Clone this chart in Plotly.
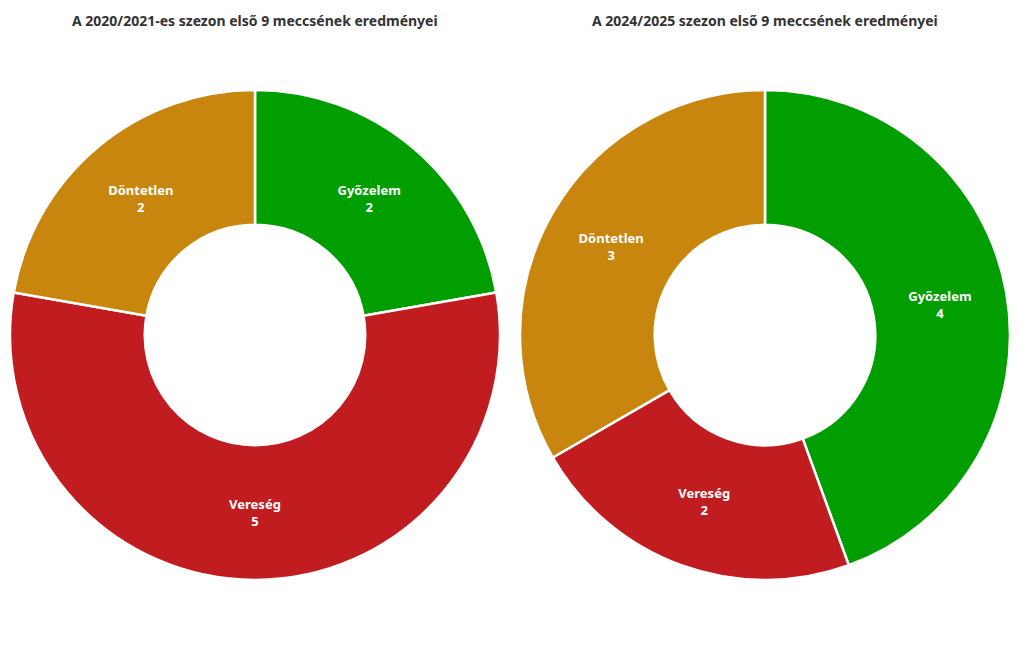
import plotly.graph_objects as go

labels = ["Győzelem", "Vereség", "Döntetlen"]
values_2020 = [2, 5, 2]
values_2024 = [4, 2, 3]
colors = ["#009E00", "#C11C20", "#C9860E"]
titles = ["A 2020/2021-es szezon első 9 meccsének eredményei",
          "A 2024/2025 szezon első 9 meccsének eredményei"]

FONT = "Noto Sans, Open Sans, sans-serif"

fig = go.Figure()
domains = [[0, 0.49], [0.51, 1.0]]
for vals, dom in zip([values_2020, values_2024], domains):
    fig.add_trace(go.Pie(
        labels=labels, values=vals, hole=0.45, sort=False,
        direction="clockwise", rotation=0,
        marker=dict(colors=colors, line=dict(color="white", width=2.5)),
        textposition="inside",
        insidetextorientation="horizontal",
        texttemplate="<b>%{label}</b><br><b>%{value}</b>",
        textfont=dict(color="white", size=13, family=FONT),
        domain=dict(x=dom, y=[0, 1]),
        showlegend=False, hoverinfo="label+value+percent",
    ))

plot_h = 650 - 90 - 70
annotations = []
for t, dom in zip(titles, domains):
    annotations.append(dict(
        text="<b>" + t + "</b>", x=(dom[0] + dom[1]) / 2, xref="paper",
        xanchor="center",
        y=1 + (90 - 20) / plot_h, yref="paper", yanchor="middle",
        showarrow=False,
        font=dict(size=14, color="#333333", family=FONT),
    ))

fig.update_layout(
    width=1020, height=650,
    margin=dict(l=10, r=10, t=90, b=70),
    paper_bgcolor="white", plot_bgcolor="white",
    font=dict(family=FONT),
    showlegend=False,
    annotations=annotations,
)

fig.write_html("out.html")
